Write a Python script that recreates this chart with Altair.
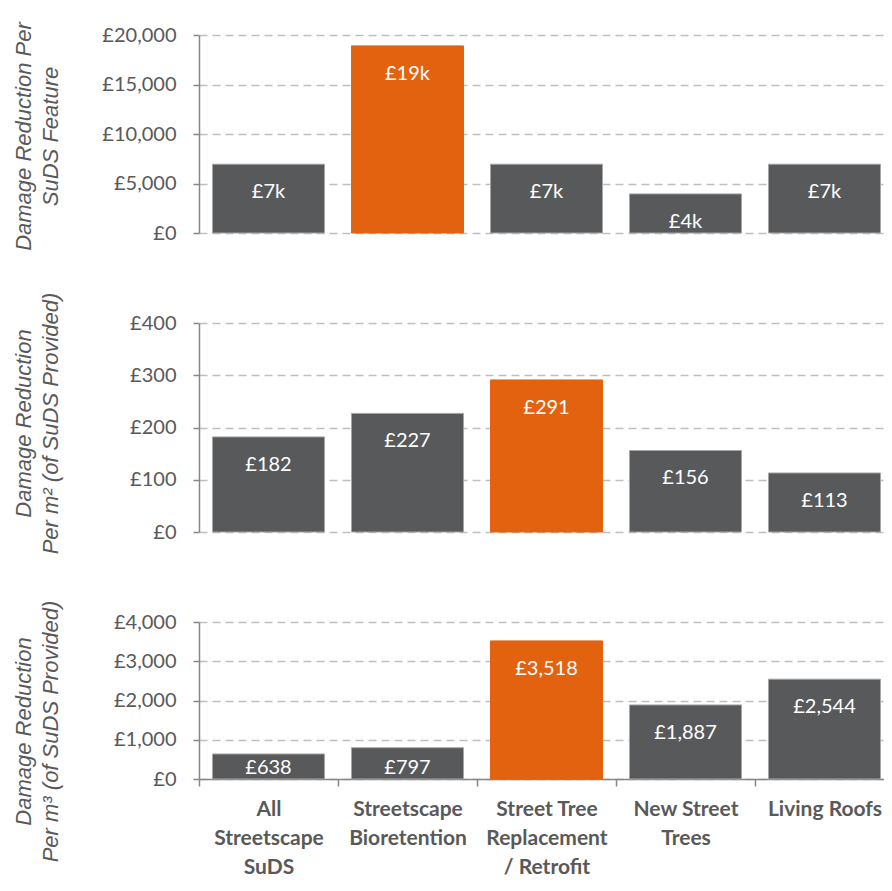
import altair as alt
import pandas as pd

# ---------------- data ----------------
categories = [
    "All Streetscape SuDS",
    "Streetscape Bioretention",
    "Street Tree Replacement / Retrofit",
    "New Street Trees",
    "Living Roofs",
]
label_lines = [
    ["All", "Streetscape", "SuDS"],
    ["Streetscape", "Bioretention"],
    ["Street Tree", "Replacement", "/ Retrofit"],
    ["New Street", "Trees"],
    ["Living Roofs"],
]

per_feature = [6950, 18900, 6950, 3950, 6950]
per_m2 = [182, 227, 291, 156, 113]
per_m3 = [638, 797, 3518, 1887, 2544]

titles = [
    ["Damage Reduction Per", "SuDS Feature"],
    ["Damage Reduction", "Per m² (of SuDS Provided)"],
    ["Damage Reduction", "Per m³ (of SuDS Provided)"],
]
y_max = [20000, 400, 4000]
y_step = [5000, 100, 1000]

# ---------------- style ----------------
GREY = "#58595B"
ORANGE = "#E36210"
TEXT = "#595959"
GRID = "#BFBFBF"
AXIS = "#868686"
W = 695
STEP = W / 5
heights = [198, 209, 157]
title_y = [101, 100, 109]

# label expression for multi-line x labels
expr = "[datum.label]"
for cat, lines in reversed(list(zip(categories, label_lines))):
    arr = "[" + ",".join("'" + l + "'" for l in lines) + "]"
    expr = f"datum.label == '{cat}' ? {arr} : ({expr})"

value_fmt = [
    "'£' + format(datum.value / 1000, '.0f') + 'k'",
    "'£' + format(datum.value, ',')",
    "'£' + format(datum.value, ',')",
]


def panel(values, idx, last):
    df = pd.DataFrame({"category": categories, "value": values})
    h = heights[idx]
    k = y_max[idx] / h
    ticks = list(range(0, y_max[idx] + 1, y_step[idx]))

    base = alt.Chart(df).transform_joinaggregate(
        maxv="max(value)"
    ).transform_calculate(
        lab=value_fmt[idx],
        lab_y=f"max(datum.value - {28 * k}, {11 * k})",
    )

    if last:
        x_axis = alt.Axis(
            title=None,
            labelExpr=expr,
            labelAngle=0,
            labelAlign="center",
            labelBaseline="top",
            labelFont="Lato",
            labelFontWeight="bold",
            labelFontSize=21,
            labelColor=TEXT,
            labelLineHeight=29,
            labelPadding=12,
            tickOffset=-STEP / 2,
            labelOffset=STEP / 2,
            tickSize=7,
            tickColor=AXIS,
            tickWidth=1.5,
            domainColor=AXIS,
            domainWidth=1.5,
            grid=False,
        )
    else:
        x_axis = None

    x_scale = alt.Scale(paddingInner=0.194, paddingOuter=0.097)
    y_scale = alt.Scale(domain=[0, y_max[idx]], nice=False)
    y_axis = alt.Axis(
        title=titles[idx],
        titleFont="Liberation Sans",
        titleFontStyle="italic",
        titleFontWeight="normal",
        titleFontSize=22,
        titleColor=TEXT,
        titleAngle=270,
        titleAlign="center",
        titleBaseline="alphabetic",
        titleLineHeight=27,
        titleX=-169,
        titleY=title_y[idx],
        values=ticks,
        labelExpr="'£' + format(datum.value, ',')",
        labelFont="Lato",
        labelFontSize=20,
        labelColor=TEXT,
        labelPadding=17,
        labelOverlap=False,
        tickSize=6,
        tickColor=AXIS,
        tickWidth=1.5,
        domainColor=AXIS,
        domainWidth=1.5,
        grid=True,
        gridColor=GRID,
        gridDash=[8, 5],
        gridWidth=1.5,
    )

    is_max = "datum.value == datum.maxv"
    bars = base.mark_bar(strokeWidth=1).encode(
        x=alt.X("category:N", sort=categories, axis=x_axis, scale=x_scale),
        y=alt.Y("value:Q", scale=y_scale, axis=y_axis),
        color=alt.condition(is_max, alt.value(ORANGE), alt.value(GREY)),
        stroke=alt.condition(is_max, alt.value(ORANGE), alt.value("#A6A6A6")),
    )
    texts = base.mark_text(
        color="white", font="Lato", fontSize=20, baseline="middle", align="center"
    ).encode(
        x=alt.X("category:N", sort=categories, axis=x_axis, scale=x_scale),
        y=alt.Y("lab_y:Q", scale=y_scale, axis=y_axis),
        text="lab:N",
    )
    return alt.layer(bars, texts).properties(width=W, height=h)


chart = alt.vconcat(
    panel(per_feature, 0, False),
    panel(per_m2, 1, False),
    panel(per_m3, 2, True),
    spacing=90,
    bounds="flush",
).properties(
    padding={"top": 13, "left": 4, "right": -10, "bottom": 0}
).configure_view(stroke=None)

chart.save("out.html", embed_options={"renderer": "svg", "actions": False})
